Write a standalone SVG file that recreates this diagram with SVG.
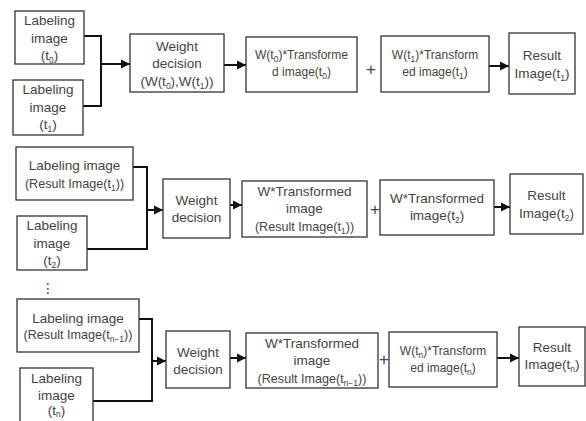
<svg xmlns="http://www.w3.org/2000/svg" width="586" height="421" viewBox="0 0 586 421">
<defs>
<style>
.bx{fill:#fff;stroke:#333;stroke-width:1.3}
.t{font-family:"Liberation Sans",Arial,sans-serif;font-size:13.5px;fill:#444;text-anchor:middle}
.s{font-size:12px}
.m{font-size:12.6px}
.sub{font-size:8.5px}
.c{fill:none;stroke:#111;stroke-width:2}
.p{font-family:"Liberation Sans",Arial,sans-serif;font-size:17px;fill:#444;text-anchor:middle}
</style>
<marker id="ah" markerUnits="userSpaceOnUse" markerWidth="10" markerHeight="10" refX="9" refY="5" orient="auto">
<path d="M0,0.5 L9,5 L0,9.5 Z" fill="#111"/>
</marker>
</defs>
<rect width="586" height="421" fill="#fff"/>

<g id="connectors">
<polyline class="c" points="84,36 101,36 101,106 83,106"/>
<line class="c" x1="101" y1="64" x2="130" y2="64" marker-end="url(#ah)"/>
<line class="c" x1="224" y1="65" x2="246" y2="65" marker-end="url(#ah)"/>
<line class="c" x1="489" y1="66" x2="509" y2="66" marker-end="url(#ah)"/>
<polyline class="c" points="133,167 147,167 147,249 87,249"/>
<line class="c" x1="147" y1="210" x2="163" y2="210" marker-end="url(#ah)"/>
<line class="c" x1="230" y1="205" x2="242" y2="205" marker-end="url(#ah)"/>
<line class="c" x1="494" y1="207" x2="510" y2="207" marker-end="url(#ah)"/>
<polyline class="c" points="139,319 152,319 152,401 93,401"/>
<line class="c" x1="152" y1="361" x2="166" y2="361" marker-end="url(#ah)"/>
<line class="c" x1="230" y1="358" x2="246" y2="358" marker-end="url(#ah)"/>
<line class="c" x1="497" y1="358" x2="519" y2="358" marker-end="url(#ah)"/>
</g>

<!-- Row 1 -->
<g id="label-t0">
<rect class="bx" x="15" y="11" width="69" height="53"/>
<text class="t" x="49.5" y="25">Labeling</text>
<text class="t" x="49.5" y="43">image</text>
<text class="t" x="49.5" y="60">(t<tspan class="sub" dy="3">0</tspan><tspan dy="-3">)</tspan></text>
</g>
<g id="label-t1">
<rect class="bx" x="13" y="80" width="70" height="55"/>
<text class="t" x="48" y="94">Labeling</text>
<text class="t" x="48" y="112">image</text>
<text class="t" x="48" y="129">(t<tspan class="sub" dy="3">1</tspan><tspan dy="-3">)</tspan></text>
</g>
<g id="weight1">
<rect class="bx" x="130" y="34" width="94" height="58"/>
<text class="t" x="177" y="51">Weight</text>
<text class="t" x="177" y="68">decision</text>
<text class="t" x="177" y="86">(W(t<tspan class="sub" dy="3">0</tspan><tspan dy="-3">),W(t</tspan><tspan class="sub" dy="3">1</tspan><tspan dy="-3">))</tspan></text>
</g>
<g id="trans1a">
<rect class="bx" x="246" y="37" width="111" height="55"/>
<text class="t s" x="301.5" y="59">W(t<tspan class="sub" dy="3">0</tspan><tspan dy="-3">)*Transforme</tspan></text>
<text class="t s" x="301.5" y="76">d image(t<tspan class="sub" dy="3">0</tspan><tspan dy="-3">)</tspan></text>
</g>
<text class="p" x="371" y="75">+</text>
<g id="trans1b">
<rect class="bx" x="381" y="36" width="108" height="56"/>
<text class="t s" x="435" y="59">W(t<tspan class="sub" dy="3">1</tspan><tspan dy="-3">)*Transform</tspan></text>
<text class="t s" x="435" y="76">ed image(t<tspan class="sub" dy="3">1</tspan><tspan dy="-3">)</tspan></text>
</g>
<g id="result1">
<rect class="bx" x="509" y="33" width="66" height="61"/>
<text class="t" x="542" y="60">Result</text>
<text class="t" x="542" y="78">Image(t<tspan class="sub" dy="3">1</tspan><tspan dy="-3">)</tspan></text>
</g>

<!-- Row 2 -->
<g id="label-r1">
<rect class="bx" x="16" y="147" width="117" height="53"/>
<text class="t" x="74.5" y="170">Labeling image</text>
<text class="t m" x="74.5" y="188">(Result Image(t<tspan class="sub" dy="3">1</tspan><tspan dy="-3">))</tspan></text>
</g>
<g id="label-t2">
<rect class="bx" x="17" y="216" width="70" height="54"/>
<text class="t" x="52" y="230">Labeling</text>
<text class="t" x="52" y="248">image</text>
<text class="t" x="52" y="265">(t<tspan class="sub" dy="3">2</tspan><tspan dy="-3">)</tspan></text>
</g>
<g id="weight2">
<rect class="bx" x="163" y="179" width="67" height="59"/>
<text class="t" x="196.5" y="205">Weight</text>
<text class="t" x="196.5" y="222">decision</text>
</g>
<g id="trans2a">
<rect class="bx" x="242" y="181" width="125" height="56"/>
<text class="t" x="304.5" y="196">W*Transformed</text>
<text class="t" x="304.5" y="213">image</text>
<text class="t m" x="304.5" y="231">(Result Image(t<tspan class="sub" dy="3">1</tspan><tspan dy="-3">))</tspan></text>
</g>
<text class="p" x="375" y="215">+</text>
<g id="trans2b">
<rect class="bx" x="380" y="180" width="114" height="55"/>
<text class="t" x="437" y="203">W*Transformed</text>
<text class="t" x="437" y="220">image(t<tspan class="sub" dy="3">2</tspan><tspan dy="-3">)</tspan></text>
</g>
<g id="result2">
<rect class="bx" x="510" y="174" width="73" height="60"/>
<text class="t" x="546.5" y="200">Result</text>
<text class="t" x="546.5" y="218">Image(t<tspan class="sub" dy="3">2</tspan><tspan dy="-3">)</tspan></text>
</g>

<text x="48" y="293" font-family="DejaVu Sans,sans-serif" font-size="14" fill="#444" text-anchor="middle">⋮</text>

<!-- Row 3 -->
<g id="label-rn1">
<rect class="bx" x="17" y="299" width="122" height="53"/>
<text class="t" x="78" y="323">Labeling image</text>
<text class="t m" x="78" y="339">(Result Image(t<tspan class="sub" dy="3">n−1</tspan><tspan dy="-3">))</tspan></text>
</g>
<g id="label-tn">
<rect class="bx" x="20" y="368" width="73" height="60"/>
<text class="t" x="56.5" y="383">Labeling</text>
<text class="t" x="56.5" y="400">image</text>
<text class="t" x="56.5" y="415">(t<tspan class="sub" dy="2">n</tspan><tspan dy="-2">)</tspan></text>
</g>
<g id="weight3">
<rect class="bx" x="166" y="331" width="64" height="57"/>
<text class="t" x="198" y="357">Weight</text>
<text class="t" x="198" y="374">decision</text>
</g>
<g id="trans3a">
<rect class="bx" x="246" y="333" width="132" height="55"/>
<text class="t" x="312" y="348">W*Transformed</text>
<text class="t" x="312" y="365">image</text>
<text class="t m" x="312" y="383">(Result Image(t<tspan class="sub" dy="3">n−1</tspan><tspan dy="-3">))</tspan></text>
</g>
<text class="p" x="384" y="365">+</text>
<g id="trans3b">
<rect class="bx" x="389" y="332" width="108" height="55"/>
<text class="t s" x="443" y="355">W(t<tspan class="sub" dy="3">n</tspan><tspan dy="-3">)*Transform</tspan></text>
<text class="t s" x="443" y="372">ed image(t<tspan class="sub" dy="3">n</tspan><tspan dy="-3">)</tspan></text>
</g>
<g id="result3">
<rect class="bx" x="519" y="327" width="66" height="59"/>
<text class="t" x="552" y="352">Result</text>
<text class="t" x="552" y="369">Image(t<tspan class="sub" dy="3">n</tspan><tspan dy="-3">)</tspan></text>
</g>
</svg>
